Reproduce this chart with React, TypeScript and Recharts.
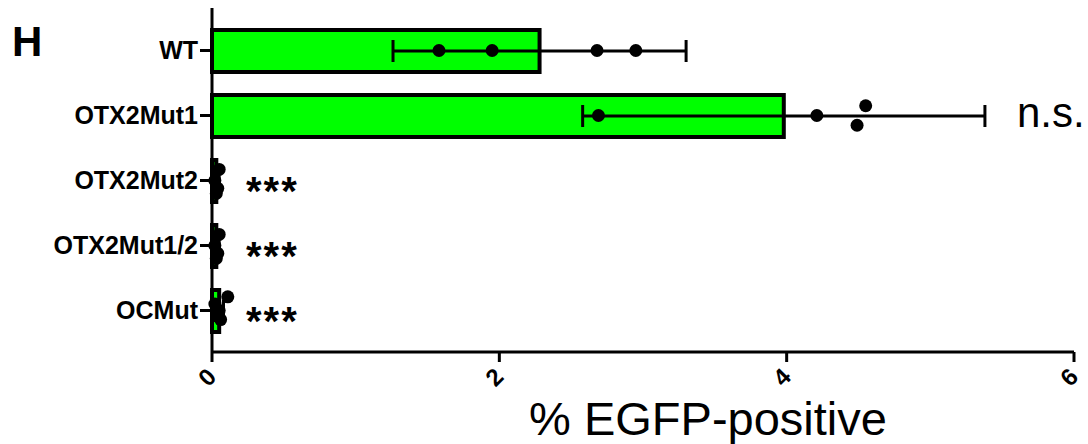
import React from 'react'
import {
  ComposedChart,
  Bar,
  Scatter,
  XAxis,
  YAxis,
  ErrorBar,
  LabelList,
  Label,
} from 'recharts'

const groups = ['WT', 'OTX2Mut1', 'OTX2Mut2', 'OTX2Mut1/2', 'OCMut']
const means = [2.28, 3.98, 0.03, 0.03, 0.05]
const sds = [1.02, 1.4, 0.02, 0.02, 0.03]
const sigLabels = ['', 'n.s.', '***', '***', '***']
const xTicks = [0, 2, 4, 6]

// individual replicates, with vertical jitter in category units
const replicateValues = [
  [1.58, 1.95, 2.68, 2.95],
  [2.69, 4.21, 4.49, 4.55],
  [0.05, 0.02, 0.04, 0.03],
  [0.05, 0.02, 0.04, 0.03],
  [0.11, 0.05, 0.06, 0.02],
]
const replicateJitter = [
  [0, 0, 0, 0],
  [0, 0, 0.15, -0.15],
  [-0.17, 0, 0.12, 0.2],
  [-0.17, 0, 0.12, 0.2],
  [-0.21, 0, 0.14, -0.1],
]

const barData = groups.map((name, i) => ({
  name,
  mean: means[i],
  sd: sds[i],
  sig: sigLabels[i],
}))

const dotData = replicateValues.flatMap((vals, i) =>
  vals.map((v, j) => ({ v, pos: i + replicateJitter[i][j] }))
)

const FONT = '"Liberation Sans", Arial, Helvetica, sans-serif'

const XTick = (props: any) => {
  const { x, y, payload } = props
  const cx = x - 5
  const cy = y + 13
  return (
    <text
      x={cx}
      y={cy}
      transform={`rotate(-45, ${cx}, ${cy})`}
      textAnchor="middle"
      dominantBaseline="central"
      fontSize={24}
      fontWeight="bold"
      fontFamily={FONT}
      fill="#000"
    >
      {payload.value}
    </text>
  )
}

const SigLabel = (props: any) => {
  const { x, y, width, height, index, value } = props
  if (!value) return null
  const cy = y + height / 2
  if (value === 'n.s.') {
    const pxPerUnit = width / means[index]
    const end = x + width + sds[index] * pxPerUnit
    return (
      <text x={end + 32} y={cy + 11} fontSize={42} fontFamily={FONT} fill="#000">
        {value}
      </text>
    )
  }
  return (
    <text x={x + 34} y={cy + 24} fontSize={40} fontWeight="bold" fontFamily={FONT} fill="#000" letterSpacing={2}>
      {value}
    </text>
  )
}

const Dot = (props: any) => <circle cx={props.cx} cy={props.cy} r={6.5} fill="#000" />

export default function App() {
  return (
    <div style={{ position: 'absolute', left: 0, top: 0, width: 1088, height: 444, background: '#fff' }}>
      <svg width={60} height={70} style={{ position: 'absolute', left: 0, top: 0 }}>
        <text x={12} y={56} fontSize={42} fontWeight="bold" fontFamily={FONT} fill="#000">
          H
        </text>
      </svg>
      <ComposedChart
        width={1088}
        height={444}
        data={barData}
        layout="vertical"
        margin={{ top: 8, right: 14, bottom: 42, left: 0 }}
      >
        <XAxis
          type="number"
          domain={[0, 6]}
          ticks={xTicks}
          axisLine={{ stroke: '#000', strokeWidth: 3 }}
          tickLine={{ stroke: '#000', strokeWidth: 3 }}
          tickSize={10}
          tick={<XTick />}
          height={50}
        >
          <Label
            content={(p: any) => {
              const vb = p.viewBox
              return (
                <text
                  x={vb.x + vb.width / 2 + 65}
                  y={vb.y + 83}
                  textAnchor="middle"
                  fontSize={47}
                  fontFamily={FONT}
                  fill="#000"
                >
                  % EGFP-positive
                </text>
              )
            }}
          />
        </XAxis>
        <XAxis xAxisId="dots" type="number" dataKey="v" domain={[0, 6]} hide />
        <YAxis
          type="category"
          dataKey="name"
          width={212}
          padding={{ top: 10, bottom: 9 }}
          axisLine={{ stroke: '#000', strokeWidth: 3 }}
          tickLine={{ stroke: '#000', strokeWidth: 3 }}
          tickSize={12}
          tickMargin={2}
          tick={{ fontSize: 25, fontWeight: 'bold', fill: '#000', fontFamily: FONT }}
        />
        <YAxis
          yAxisId="dots"
          type="number"
          dataKey="pos"
          domain={[-0.5, 4.5]}
          allowDataOverflow
          padding={{ top: 10, bottom: 9 }}
          hide
        />
        <Bar
          dataKey="mean"
          fill="#00ff00"
          stroke="#000"
          strokeWidth={4}
          barSize={42}
          isAnimationActive={false}
        >
          <ErrorBar dataKey="sd" direction="x" width={11} stroke="#000" strokeWidth={3} />
          <LabelList dataKey="sig" content={<SigLabel />} />
        </Bar>
        <Scatter
          data={dotData}
          xAxisId="dots"
          yAxisId="dots"
          dataKey="v"
          shape={<Dot />}
          isAnimationActive={false}
        />
      </ComposedChart>
    </div>
  )
}
